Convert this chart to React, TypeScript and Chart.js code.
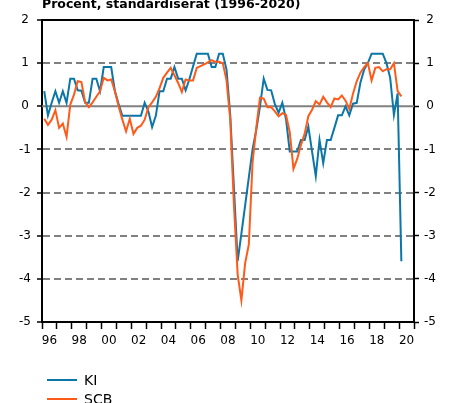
import React, { useEffect, useRef } from 'react';
import { Chart, registerables } from 'chart.js';

Chart.register(...registerables);

// ---- Data ----
const titleText = 'Procent, standardiserat (1996-2020)';
const seriesNames = ['KI', 'SCB'];
const seriesColors = ['#0B76A8', '#FF5A1A'];
const yearLabels = ['96', '97', '98', '99', '00', '01', '02', '03', '04', '05', '06', '07', '08', '09', '10', '11', '12', '13', '14', '15', '16', '17', '18', '19', '20'];
const firstYear = 1996;
const lastYear = 2021;
const firstQuarterPos = 1996.15; // position of first quarterly observation
const yMin = -5;
const yMax = 2;

// Quarterly observations, 1996 Q1 – 2020 Q1
const kiValues = [
  0.35, -0.21, 0.08, 0.35, 0.08, 0.35, 0.08, 0.64,
  0.64, 0.37, 0.36, 0.08, 0.08, 0.64, 0.64, 0.35,
  0.91, 0.91, 0.91, 0.35, 0.05, -0.22, -0.22, -0.22,
  -0.22, -0.22, -0.22, 0.08, -0.12, -0.48, -0.22, 0.35,
  0.35, 0.64, 0.64, 0.91, 0.64, 0.64, 0.37, 0.62,
  0.92, 1.22, 1.22, 1.22, 1.22, 0.91, 0.91, 1.22,
  1.22, 0.85, -0.2, -1.9, -3.59, -2.95, -2.3, -1.65,
  -1.0, -0.55, 0.0, 0.64, 0.38, 0.37, 0.05, -0.15,
  0.08, -0.3, -1.05, -1.05, -1.05, -0.78, -0.78, -0.47,
  -1.05, -1.62, -0.78, -1.32, -0.78, -0.78, -0.5, -0.21,
  -0.21, 0.0, -0.21, 0.06, 0.08, 0.55, 0.85, 1.0,
  1.22, 1.22, 1.22, 1.22, 1.0, 0.66, -0.2, 0.3,
  -3.59,
];

const scbValues = [
  -0.29, -0.43, -0.31, -0.09, -0.5, -0.4, -0.71, 0.04,
  0.27, 0.58, 0.56, 0.09, -0.02, 0.09, 0.22, 0.35,
  0.66, 0.6, 0.62, 0.35, 0.0, -0.31, -0.58, -0.29,
  -0.64, -0.5, -0.45, -0.31, -0.02, 0.09, 0.22, 0.42,
  0.66, 0.78, 0.89, 0.72, 0.54, 0.33, 0.62, 0.6,
  0.6, 0.89, 0.93, 0.97, 1.02, 1.07, 1.03, 1.03,
  1.0, 0.6, -0.3, -2.3, -3.9, -4.5, -3.64, -3.2,
  -1.3, -0.5, 0.2, 0.18, -0.02, -0.02, -0.12, -0.23,
  -0.16, -0.2, -0.6, -1.45, -1.22, -0.9, -0.64, -0.23,
  -0.08, 0.12, 0.04, 0.22, 0.09, -0.02, 0.18, 0.16,
  0.25, 0.13, -0.06, 0.29, 0.58, 0.78, 0.91, 1.0,
  0.6, 0.89, 0.91, 0.81, 0.86, 0.86, 1.0, 0.35,
  0.23,
];

const FONT = "'DejaVu Sans', Verdana, sans-serif";

const toPoints = (vals: number[]) => vals.map((v, i) => ({ x: firstQuarterPos + i * 0.25, y: v }));

const decorPlugin = {
  id: 'decor',
  beforeDatasetsDraw(chart: any) {
    const { ctx, chartArea: a, scales } = chart;
    const y0 = scales.y.getPixelForValue(0);
    ctx.save();
    ctx.setLineDash([]);
    ctx.strokeStyle = '#808080';
    ctx.lineWidth = 2;
    ctx.beginPath();
    ctx.moveTo(a.left, y0);
    ctx.lineTo(a.right, y0);
    ctx.stroke();
    ctx.strokeStyle = '#000';
    ctx.beginPath();
    ctx.moveTo(a.left - 1, a.top);
    ctx.lineTo(a.right + 1, a.top);
    ctx.stroke();
    ctx.restore();
  },
  afterDraw(chart: any) {
    const { ctx, chartArea: a } = chart;
    ctx.save();
    // title
    ctx.fillStyle = '#000';
    ctx.font = `bold 12.5px ${FONT}`;
    ctx.textAlign = 'left';
    ctx.textBaseline = 'alphabetic';
    ctx.fillText(titleText, a.left, 8);
    // legend
    ctx.font = `14px ${FONT}`;
    ctx.textBaseline = 'middle';
    seriesNames.forEach((name, i) => {
      const y = a.bottom + 58 + i * 19;
      ctx.strokeStyle = seriesColors[i];
      ctx.lineWidth = 2;
      ctx.beginPath();
      ctx.moveTo(47, y);
      ctx.lineTo(77, y);
      ctx.stroke();
      ctx.fillStyle = '#000';
      ctx.fillText(name, 84, y + 1);
    });
    ctx.restore();
  },
};

export default function App() {
  const ref = useRef<HTMLCanvasElement>(null);

  useEffect(() => {
    document.body.style.margin = '0';
    if (!ref.current) return;
    const chart = new Chart(ref.current, {
      type: 'line',
      data: {
        datasets: [
          {
            label: seriesNames[0],
            data: toPoints(kiValues),
            borderColor: seriesColors[0],
            borderWidth: 2,
            pointRadius: 0,
            tension: 0,
            xAxisID: 'xd',
            yAxisID: 'y',
            order: 1,
          },
          {
            label: seriesNames[1],
            data: toPoints(scbValues),
            borderColor: seriesColors[1],
            borderWidth: 2,
            pointRadius: 0,
            tension: 0,
            xAxisID: 'xd',
            yAxisID: 'y',
            order: 0,
          },
        ],
      },
      options: {
        responsive: false,
        animation: false,
        events: [],
        layout: { padding: { top: 20, bottom: 51, left: 0, right: 0 } },
        plugins: {
          legend: { display: false },
          tooltip: { enabled: false },
          title: { display: false },
        },
        scales: {
          x: {
            type: 'category',
            labels: yearLabels,
            position: 'bottom',
            offset: true,
            afterFit: (s: any) => { s.height = 30; },
            grid: {
              offset: true,
              drawOnChartArea: false,
              drawTicks: true,
              tickLength: 7,
              tickColor: '#000',
              tickWidth: 1.5,
            },
            border: { display: true, color: '#000', width: 2 },
            ticks: {
              autoSkip: false,
              maxRotation: 0,
              padding: 5,
              color: '#000',
              font: { family: FONT, size: 12 },
              callback: (_v: any, i: number) => (i % 2 === 0 ? yearLabels[i] : ''),
            },
          },
          xd: {
            type: 'linear',
            display: false,
            min: firstYear,
            max: lastYear,
          },
          y: {
            type: 'linear',
            position: 'left',
            min: yMin,
            max: yMax,
            afterFit: (s: any) => { s.width = 42; },
            grid: {
              color: (c: any) => (c.tick && (c.tick.value === 0 || c.tick.value === yMin || c.tick.value === yMax) ? 'rgba(0,0,0,0)' : '#808080'),
              lineWidth: 2,
              tickLength: 5,
              tickColor: '#000',
              tickWidth: 1.5,
              tickBorderDash: [],
            },
            border: { display: true, color: '#000', width: 2, dash: [7, 4] },
            ticks: {
              stepSize: 1,
              padding: 6,
              crossAlign: 'center',
              color: '#000',
              font: { family: FONT, size: 12 },
            },
          },
          y2: {
            type: 'linear',
            position: 'right',
            min: yMin,
            max: yMax,
            afterFit: (s: any) => { s.width = 35; },
            grid: {
              drawOnChartArea: false,
              tickLength: 5,
              tickColor: '#000',
              tickWidth: 1.5,
            },
            border: { display: true, color: '#000', width: 2 },
            ticks: {
              stepSize: 1,
              padding: 5,
              crossAlign: 'center',
              color: '#000',
              font: { family: FONT, size: 12 },
            },
          },
        },
      },
      plugins: [decorPlugin],
    } as any);
    return () => chart.destroy();
  }, []);

  return (
    <div style={{ width: 449, height: 403 }}>
      <canvas ref={ref} width={449} height={403} style={{ display: 'block' }} />
    </div>
  );
}
